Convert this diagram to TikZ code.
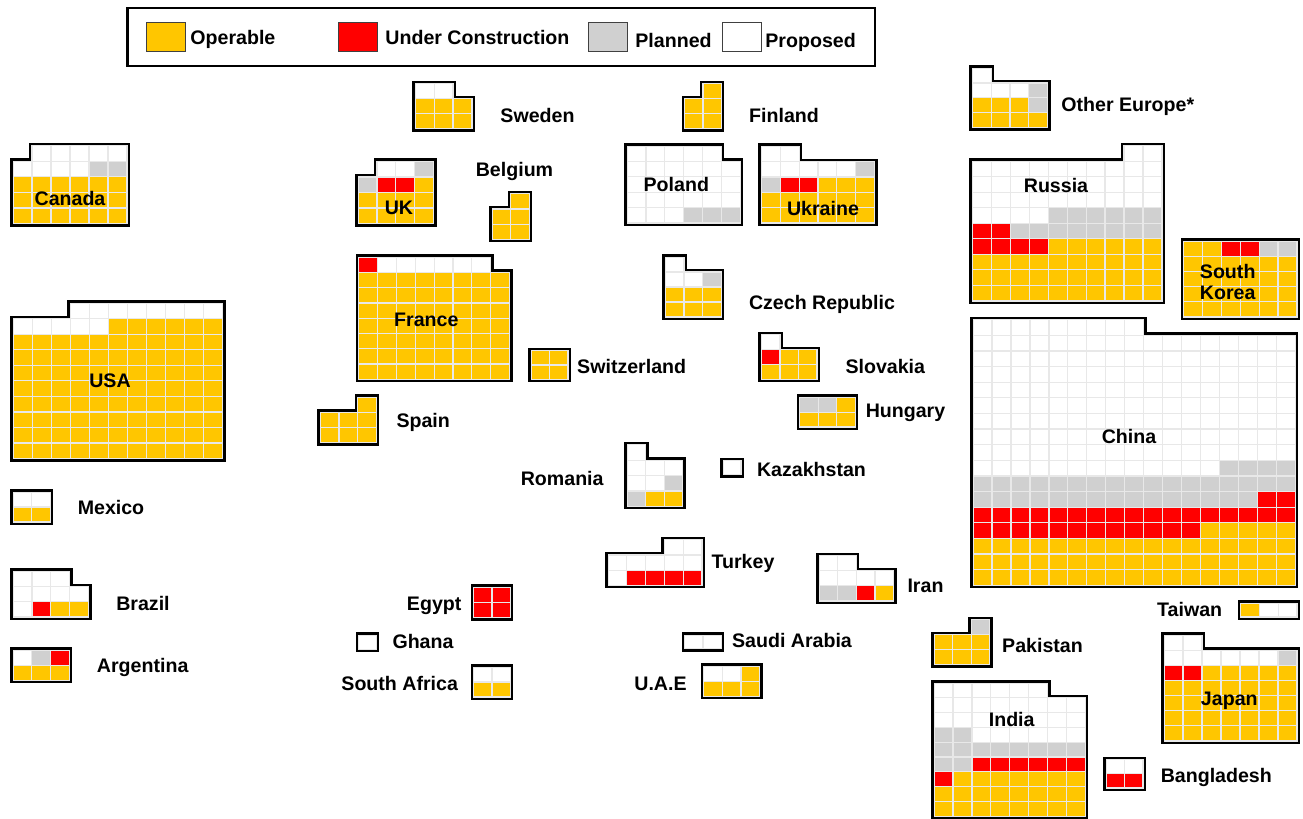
\documentclass[tikz,border=0pt]{standalone}
\usepackage{fontspec}
\setmainfont{Liberation Sans}
\definecolor{wafY}{RGB}{255,198,0}
\definecolor{wafR}{RGB}{255,0,0}
\definecolor{wafG}{RGB}{208,208,208}
\definecolor{wafW}{RGB}{255,255,255}
\definecolor{wafgrid}{RGB}{232,232,232}

\newcount\wafcol
\newcount\wafpass
\def\wafscan#1{\ifx#1\relax\else\wafcell#1\expandafter\wafscan\fi}
\def\wafcell#1{%
  \if#1-\else
    \ifnum\wafpass=0
      \fill[black] ({\wx+\the\wafcol*\cw-3},{\wy+\j*\ch-3}) rectangle ++({\cw+6},{\ch+6});
    \else
      \filldraw[fill=waf#1,draw=wafgrid,line width=0.6pt] ({\wx+\the\wafcol*\cw},{\wy+\j*\ch}) rectangle ++(\cw,\ch);
    \fi
  \fi
  \global\advance\wafcol by 1\relax}
\newcommand\waffle[7]{%
  \pgfmathsetmacro\wx{#1+1.4}\pgfmathsetmacro\wy{#2+1.4}%
  \pgfmathsetmacro\cw{(#3-#1-2.8)/#5}\pgfmathsetmacro\ch{(#4-#2-2.8)/#6}%
  \foreach \wp in {0,1}{%
    \global\wafpass=\wp\relax
    \foreach \r [count=\j from 0] in {#7}{%
      \global\wafcol=0\relax
      \expandafter\wafscan\r\relax}}}

\begin{document}
\begin{tikzpicture}[x=0.5pt,y=-0.5pt]
    \tikzstyle{lbl}=[font=\fontsize{9.8}{10.4}\selectfont\bfseries,inner sep=0pt,text height=7pt,text depth=0pt]
    \tikzstyle{swatch}=[draw=black!75,line width=0.5pt,minimum width=19.4pt,minimum height=14.5pt,inner sep=0pt]
    \useasboundingbox (0,0) rectangle (1303,819);

    \draw[line width=1.25pt] (127.3,7.9) rectangle (874.9,66.1);
    \foreach \name/\col/\x/\lx/\ly/\txt in {op/wafY/166.2/190/38/Operable, uc/wafR/358.3/385/38/Under Construction,
            pl/wafG/607.8/635/40/Planned, pr/wafW/741.9/765/40/Proposed}
    {
        \node[swatch,fill=\col] (sw-\name) at (\x,37.2) {};
        \node[lbl,anchor=west] (key-\name) at (\lx,\ly) {\txt};
    }

    \waffle{11.7}{144.3}{128.3}{225}{6}{5}{-WWWWW,WWWWGG,YYYYYY,YYYYYY,YYYYYY}
    \waffle{11.7}{301.7}{224}{460}{11}{10}{---WWWWWWWW,WWWWWYYYYYY,YYYYYYYYYYY,YYYYYYYYYYY,YYYYYYYYYYY,YYYYYYYYYYY,YYYYYYYYYYY,YYYYYYYYYYY,YYYYYYYYYYY,YYYYYYYYYYY}
    \waffle{11.7}{490.7}{51.7}{523.3}{2}{2}{WW,YY}
    \waffle{11.7}{570}{90}{618.3}{4}{3}{WWW-,WWWW,WRYY}
    \waffle{11.7}{649}{70.7}{681.7}{3}{2}{WGR,YYY}
    \waffle{356.7}{160}{435}{225}{4}{4}{-WWG,GRRY,YYYY,YYYY}
    \waffle{414}{82.3}{473.3}{130}{3}{3}{WW-,YYY,YYY}
    \waffle{683.3}{82.3}{722.7}{130}{2}{3}{-Y,YY,YY}
    \waffle{491}{192.3}{530.7}{240.7}{2}{3}{-Y,YY,YY}
    \waffle{625.7}{144.7}{741.7}{224.3}{6}{5}{WWWWW-,WWWWWW,WWWWWW,WWWWWW,WWWGGG}
    \waffle{357.3}{255.7}{511}{380.7}{8}{8}{RWWWWWW-,YYYYYYYY,YYYYYYYY,YYYYYYYY,YYYYYYYY,YYYYYYYY,YYYYYYYY,YYYYYYYY}
    \waffle{664}{255.7}{722.7}{318.3}{3}{4}{W--,WWG,YYY,YYY}
    \waffle{760}{145}{876}{224.3}{6}{5}{WW----,WWWWWG,GRRYYY,YYYYYY,YYYYYY}
    \waffle{971}{66.7}{1049}{129}{4}{4}{W---,WWWG,YYYG,YYYY}
    \waffle{971}{144.3}{1163.3}{302.3}{10}{10}{--------WW,WWWWWWWWWW,WWWWWWWWWW,WWWWWWWWWW,WWWWGGGGGG,RRGGGGGGGG,RRRRYYYYYY,YYYYYYYYYY,YYYYYYYYYY,YYYYYYYYYY}
    \waffle{1182.3}{240}{1298.3}{318.3}{6}{5}{YYRRGG,YYYYYY,YYYYYY,YYYYYY,YYYYYY}
    \waffle{971.7}{318.3}{1296.7}{586.7}{17}{17}{WWWWWWWWW--------,WWWWWWWWWWWWWWWWW,WWWWWWWWWWWWWWWWW,WWWWWWWWWWWWWWWWW,WWWWWWWWWWWWWWWWW,WWWWWWWWWWWWWWWWW,WWWWWWWWWWWWWWWWW,WWWWWWWWWWWWWWWWW,WWWWWWWWWWWWWWWWW,WWWWWWWWWWWWWGGGG,GGGGGGGGGGGGGGGGG,GGGGGGGGGGGGGGGRR,RRRRRRRRRRRRRRRRR,RRRRRRRRRRRRYYYYY,YYYYYYYYYYYYYYYYY,YYYYYYYYYYYYYYYYY,YYYYYYYYYYYYYYYYY}
    \waffle{530}{349.3}{569.3}{380.7}{2}{2}{YY,YY}
    \waffle{760}{333.3}{818.3}{380.7}{3}{3}{W--,RYY,YYY}
    \waffle{798.3}{396}{856.7}{428.3}{3}{2}{GGY,YYY}
    \waffle{626}{443.3}{684}{507.7}{3}{4}{W--,WWW,WWG,GYY}
    \waffle{721.7}{459.3}{742.3}{476}{1}{1}{W}
    \waffle{319}{395.7}{377.7}{444}{3}{3}{--Y,YYY,YYY}
    \waffle{606.7}{538.3}{703.3}{586.7}{5}{3}{---WW,WWWWW,WRRRR}
    \waffle{817.7}{554.3}{895}{602.3}{4}{3}{WW--,WWWW,GGRY}
    \waffle{683.3}{634}{722.7}{650}{2}{1}{WW}
    \waffle{702.3}{665}{761}{697.7}{3}{2}{WWY,YYY}
    \waffle{472.3}{586}{511.7}{619}{2}{2}{RR,RR}
    \waffle{357.3}{634}{377.7}{650.7}{1}{1}{W}
    \waffle{472.3}{665.7}{511.7}{698.3}{2}{2}{WW,YY}
    \waffle{1239.3}{601.7}{1298.3}{618.3}{3}{1}{YWW}
    \waffle{932.7}{618.3}{991}{666}{3}{3}{--G,YYY,YYY}
    \waffle{1162.7}{634}{1298.3}{742.3}{7}{7}{WW-----,WWWWWWG,RRYYYYY,YYYYYYY,YYYYYYY,YYYYYYY,YYYYYYY}
    \waffle{932.7}{681.7}{1086.7}{817.5}{8}{9}{WWWWWW--,WWWWWWWW,WWWWWWWW,GGWWWWWW,GGGGGGGG,GGRRRRRR,RYYYYYYY,YYYYYYYY,YYYYYYYY}
    \waffle{1105}{758.3}{1144.3}{789.3}{2}{2}{WW,RR}

    \foreach \name/\x/\y/\txt in {canada/70/198/Canada, usa/110/380.7/USA, mexico/111/507.3/Mexico,
            brazil/143/603.3/Brazil, argentina/142.7/665.7/Argentina, uk/399/207.3/UK,
            sweden/537.5/115/Sweden, finland/784/115/Finland, belgium/514.5/169/Belgium,
            poland/676.3/184/Poland, france/426.3/319.3/France, czech/822/302/Czech Republic,
            ukraine/823/208/Ukraine, othereu/1127.8/104.3/Other Europe*, russia/1056/185/Russia,
            china/1129/436.7/China, switz/631.7/366/Switzerland, slovakia/885.3/366/Slovakia,
            hungary/905.5/410.7/Hungary, romania/562.2/478.3/Romania, kazakh/811.5/469/Kazakhstan,
            spain/423.2/420.7/Spain, turkey/743/561.7/Turkey, iran/925.5/585/Iran,
            saudi/792/640.7/Saudi Arabia, uae/660.5/683.3/U.A.E, egypt/434.2/603.3/Egypt,
            ghana/423/641/Ghana, safrica/399.7/683.3/South Africa, taiwan/1189.7/609.3/Taiwan,
            pakistan/1042.5/645/Pakistan, japan/1229.3/698.3/Japan, india/1011.7/719.3/India,
            bangla/1216.3/775/Bangladesh}
        \node[lbl] (\name) at (\x,\y) {\txt};
    \node[lbl,align=center] (skorea) at (1227.7,292) {South\\Korea};
\end{tikzpicture}
\end{document}
